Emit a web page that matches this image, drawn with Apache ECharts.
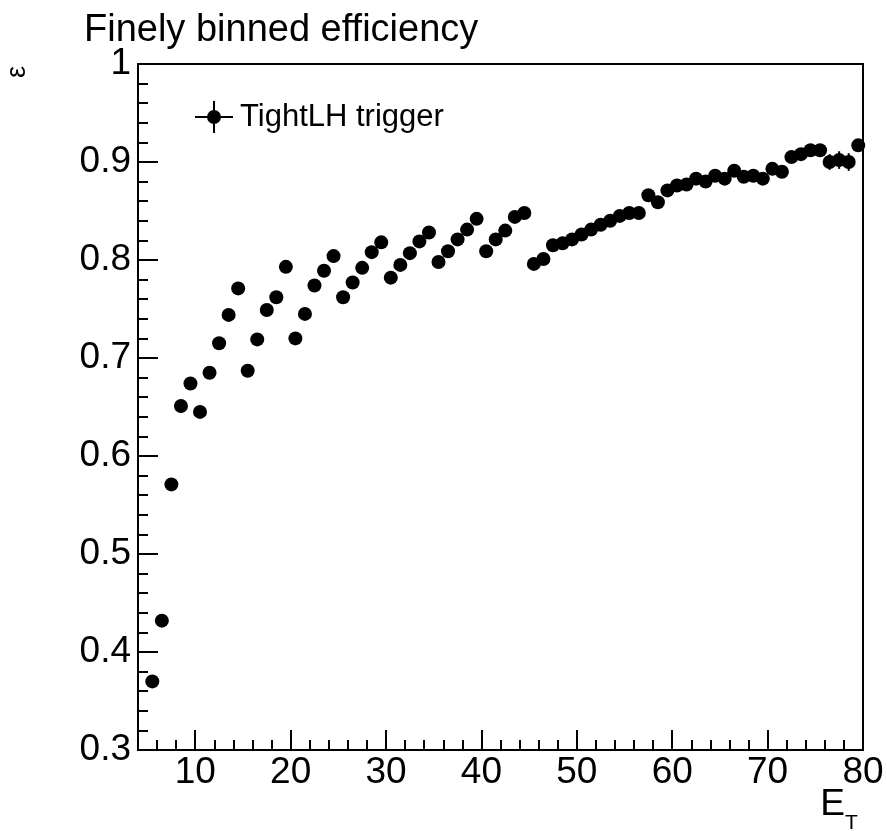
<!DOCTYPE html>
<html>
<head>
<meta charset="utf-8">
<script src="https://cdn.jsdelivr.net/npm/echarts@6/dist/echarts.min.js"></script>
<style>
  html, body { margin: 0; padding: 0; background: #fff; }
  #main { width: 887px; height: 831px; }
</style>
</head>
<body>
<div id="main"></div>
<script>
// Finely binned trigger efficiency vs E_T (1 GeV bins)
var etCenters = [
    5.5, 6.5, 7.5, 8.5, 9.5, 10.5, 11.5, 12.5, 13.5, 14.5,
    15.5, 16.5, 17.5, 18.5, 19.5, 20.5, 21.5, 22.5, 23.5, 24.5,
    25.5, 26.5, 27.5, 28.5, 29.5, 30.5, 31.5, 32.5, 33.5, 34.5,
    35.5, 36.5, 37.5, 38.5, 39.5, 40.5, 41.5, 42.5, 43.5, 44.5,
    45.5, 46.5, 47.5, 48.5, 49.5, 50.5, 51.5, 52.5, 53.5, 54.5,
    55.5, 56.5, 57.5, 58.5, 59.5, 60.5, 61.5, 62.5, 63.5, 64.5,
    65.5, 66.5, 67.5, 68.5, 69.5, 70.5, 71.5, 72.5, 73.5, 74.5,
    75.5, 76.5, 77.5, 78.5, 79.5
];
var efficiency = [
    0.370, 0.432, 0.571, 0.651, 0.674, 0.645, 0.685, 0.715, 0.744, 0.771,
    0.687, 0.719, 0.749, 0.762, 0.793, 0.720, 0.745, 0.774, 0.789, 0.804,
    0.762, 0.777, 0.792, 0.808, 0.818, 0.782, 0.795, 0.807, 0.819, 0.828,
    0.798, 0.809, 0.821, 0.831, 0.842, 0.809, 0.821, 0.830, 0.844, 0.848,
    0.796, 0.801, 0.815, 0.817, 0.821, 0.826, 0.831, 0.836, 0.840, 0.845,
    0.848, 0.848, 0.866, 0.859, 0.871, 0.876, 0.877, 0.883, 0.880, 0.886,
    0.883, 0.891, 0.885, 0.886, 0.883, 0.893, 0.890, 0.905, 0.908, 0.912,
    0.912, 0.900, 0.902, 0.900, 0.917
];
var effError = [
    0.005, 0.005, 0.005, 0.004, 0.004, 0.004, 0.004, 0.004, 0.004, 0.004,
    0.003, 0.003, 0.003, 0.003, 0.003, 0.003, 0.003, 0.003, 0.003, 0.003,
    0.003, 0.003, 0.003, 0.003, 0.003, 0.003, 0.003, 0.003, 0.003, 0.003,
    0.003, 0.003, 0.003, 0.003, 0.003, 0.003, 0.003, 0.003, 0.003, 0.003,
    0.003, 0.003, 0.003, 0.003, 0.003, 0.003, 0.003, 0.003, 0.003, 0.003,
    0.003, 0.003, 0.004, 0.004, 0.004, 0.004, 0.004, 0.004, 0.004, 0.005,
    0.005, 0.005, 0.005, 0.005, 0.005, 0.005, 0.006, 0.006, 0.006, 0.006,
    0.006, 0.008, 0.009, 0.009, 0.006
];
var binHalfWidth = 0.5;
var xMajorTicks = [10, 20, 30, 40, 50, 60, 70, 80];
var seriesName = 'TightLH trigger';

var fontFamily = '"Liberation Sans", Arial, Helvetica, sans-serif';

document.addEventListener('DOMContentLoaded', function () {
    var myChart = echarts.init(document.getElementById('main'));

    var points = etCenters.map(function (x, i) { return [x, efficiency[i]]; });
    var bars = etCenters.map(function (x, i) { return [x, efficiency[i], effError[i]]; });

    var option = {
        backgroundColor: '#fff',
        animation: false,
        title: {
            text: 'Finely binned efficiency',
            left: 79,
            top: 7,
            textStyle: { fontFamily: fontFamily, fontSize: 38, fontWeight: 'normal', color: '#000' }
        },
        legend: {
            data: [seriesName],
            left: 190,
            top: 96,
            itemWidth: 38,
            itemHeight: 32,
            icon: 'path://M0,15H38V17H0Z M18,0H20V32H18Z M12,16A7,7 0 1,1 26,16A7,7 0 1,1 12,16Z',
            itemStyle: { color: '#000' },
            textStyle: { fontFamily: fontFamily, fontSize: 31, color: '#000', padding: [0, 0, 0, 2] }
        },
        grid: {
            left: 138, right: 24, top: 64, bottom: 81,
            show: true, borderColor: '#000', borderWidth: 2, backgroundColor: 'transparent'
        },
        xAxis: [{
            type: 'value', min: 4, max: 80, interval: 2,
            axisLine: { lineStyle: { color: '#000', width: 2 } },
            axisTick: { inside: true, length: 10, lineStyle: { color: '#000', width: 2 } },
            axisLabel: { show: false },
            splitLine: { show: false }
        }, {
            type: 'value', min: 4, max: 80, position: 'bottom',
            axisLine: { show: false },
            axisTick: { inside: true, length: 20, customValues: xMajorTicks, lineStyle: { color: '#000', width: 2 } },
            axisLabel: {
                customValues: xMajorTicks, margin: 4,
                fontFamily: fontFamily, fontSize: 37, color: '#000'
            },
            splitLine: { show: false }
        }],
        yAxis: {
            type: 'value', min: 0.3, max: 1, interval: 0.1,
            axisLine: { show: true, lineStyle: { color: '#000', width: 2 } },
            axisTick: { show: true, inside: true, length: 20, lineStyle: { color: '#000', width: 2 } },
            minorTick: { show: true, splitNumber: 5, length: 10, lineStyle: { color: '#000', width: 2 } },
            axisLabel: {
                margin: 7, fontFamily: fontFamily, fontSize: 37, color: '#000',
                formatter: function (v) { return Math.abs(v - 1) < 1e-9 ? '1' : v.toFixed(1); }
            },
            splitLine: { show: false }
        },
        graphic: [
            {
                type: 'text', x: 18, y: 72, rotation: Math.PI / 2,
                style: { text: 'ε', font: '27px ' + fontFamily, fill: '#000', align: 'center', verticalAlign: 'middle' }
            },
            {
                type: 'text', x: 845, y: 823,
                style: { text: 'E', font: '37px ' + fontFamily, fill: '#000', align: 'right', verticalAlign: 'bottom' }
            },
            {
                type: 'text', x: 845, y: 834,
                style: { text: 'T', font: '21px ' + fontFamily, fill: '#000', align: 'left', verticalAlign: 'bottom' }
            }
        ],
        series: [{
            name: 'errors',
            type: 'custom',
            xAxisIndex: 0,
            data: bars,
            z: 2,
            renderItem: function (params, api) {
                var x = api.value(0), y = api.value(1), e = api.value(2);
                var top = api.coord([x, y + e]);
                var bot = api.coord([x, y - e]);
                var l = api.coord([x - binHalfWidth, y]);
                var r = api.coord([x + binHalfWidth, y]);
                var st = { stroke: '#000', lineWidth: 2 };
                return {
                    type: 'group',
                    children: [
                        { type: 'line', shape: { x1: top[0], y1: top[1], x2: bot[0], y2: bot[1] }, style: st },
                        { type: 'line', shape: { x1: l[0], y1: l[1], x2: r[0], y2: r[1] }, style: st }
                    ]
                };
            }
        }, {
            name: seriesName,
            type: 'scatter',
            xAxisIndex: 0,
            data: points,
            symbol: 'circle',
            symbolSize: 14,
            z: 3,
            itemStyle: { color: '#000', opacity: 1 }
        }]
    };

    myChart.setOption(option);
});
</script>
</body>
</html>
